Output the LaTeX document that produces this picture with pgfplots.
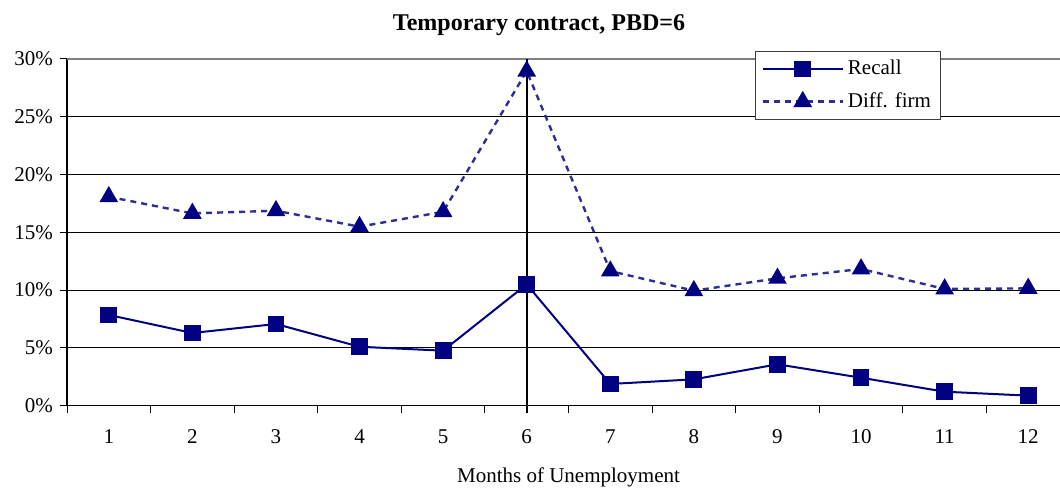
\documentclass[border=0pt]{standalone}
\usepackage{pgfplots}
\pgfplotsset{compat=1.18}
\usepackage{fontspec}
\setmainfont{Liberation Serif}
\definecolor{navyc}{RGB}{0,0,128}
\definecolor{dashc}{RGB}{45,45,150}
\pgfplotstableread{
m recall diff
1 7.85 18.08
2 6.29 16.64
3 7.07 16.87
4 5.10 15.49
5 4.76 16.78
6 10.50 28.95
7 1.88 11.65
8 2.28 9.95
9 3.58 11.02
10 2.42 11.83
11 1.21 10.10
12 0.87 10.15
}\datatable
\begin{document}
\begin{tikzpicture}
\useasboundingbox (0,0) rectangle (530pt,245pt);
\begin{axis}[
  at={(33.5pt,42.15pt)}, anchor=south west,
  scale only axis, width=501.5pt, height=173.35pt,
  xmin=0.5, xmax=12.5, ymin=0, ymax=30,
  clip=false,
  axis x line*=bottom, axis y line*=left,
  axis line style={black, line width=0.6pt, -},
  xtick={0.5,1.5,...,12.5}, xticklabels={},
  extra x ticks={1,2,3,4,5,6,7,8,9,10,11,12},
  extra x tick style={major tick length=0pt, grid=none, xticklabel style={yshift=-8.5pt}},
  ytick={0,5,...,30},
  yticklabel={\pgfmathprintnumber{\tick}\%},
  /pgf/number format/assume math mode=true,
  tick align=outside,
  major tick length=3.5pt,
  tick style={black, line width=0.5pt},
  ymajorgrids, grid style={black, line width=0.5pt},
  ticklabel style={font=\fontsize{10.5}{12}\selectfont},
  title={\textbf{Temporary contract, PBD=6}},
  title style={at={(0.4706,1)}, anchor=base, yshift=8.2pt, font=\fontsize{12}{14}\selectfont},
  xlabel={Months of Unemployment},
  xlabel style={at={(0.5,0)}, anchor=base, yshift=-38.3pt, font=\fontsize{10.5}{12}\selectfont},
  legend style={at={(0.686,1.024)}, anchor=north west, draw=black!75, line width=0.5pt,
    fill=white, font=\fontsize{10.5}{12}\selectfont, inner xsep=3pt, inner ysep=2.5pt,
    row sep=3.5pt, cells={anchor=west}},
  legend image code/.code={\draw[mark repeat=2,mark phase=2,#1] plot coordinates {(0pt,0pt) (20pt,0pt) (40pt,0pt)};},
]
\addplot[gray, line width=1pt, forget plot] coordinates {(0.5,30) (12.5,30)};
\addplot[black, line width=0.8pt, forget plot] coordinates {(6,-0.65) (6,30)};
\addplot[navyc, line width=1pt, mark=square*, mark size=3.7pt, mark options={solid, fill=navyc}] table[x=m, y=recall] {\datatable};
\addlegendentry{Recall}
\addplot[dashc, line width=1.2pt, dash pattern=on 3pt off 2.5pt, mark=triangle*, mark size=4.2pt, mark options={solid, draw=navyc, fill=navyc}] table[x=m, y=diff] {\datatable};
\addlegendentry{Diff. firm}
\end{axis}
\end{tikzpicture}
\end{document}
